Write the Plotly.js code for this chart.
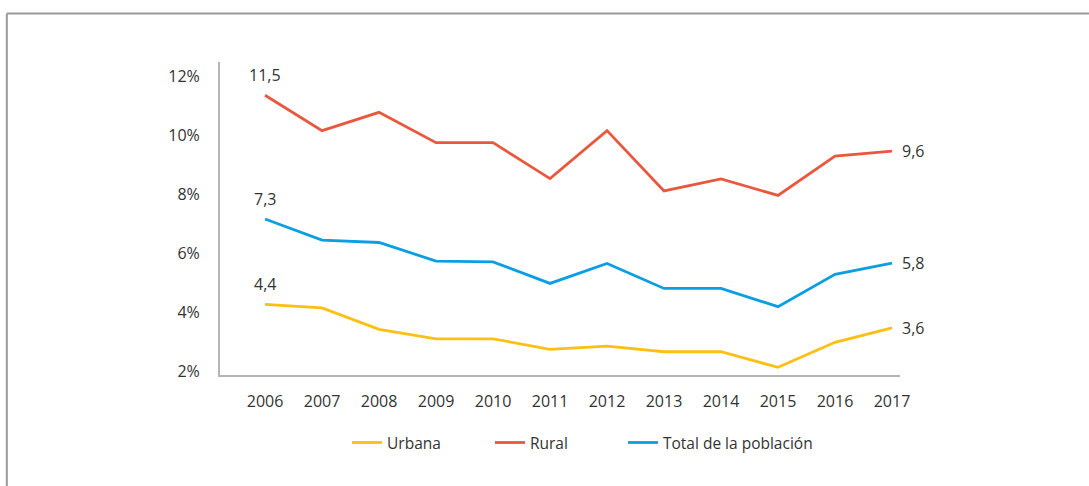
<!DOCTYPE html>
<html>
<head>
<meta charset="utf-8">
<script src="https://cdn.plot.ly/plotly-3.0.1.min.js"></script>
<style>html,body{margin:0;padding:0;background:#fff;}#chart{width:1089px;height:486px;}</style>
</head>
<body>
<div id="chart"></div>
<script>
var years = [2006, 2007, 2008, 2009, 2010, 2011, 2012, 2013, 2014, 2015, 2016, 2017];
var urbana = [4.4, 4.28, 3.55, 3.23, 3.23, 2.87, 2.98, 2.79, 2.79, 2.26, 3.11, 3.6];
var rural = [11.5, 10.3, 10.92, 9.89, 9.89, 8.67, 10.3, 8.25, 8.66, 8.1, 9.43, 9.6];
var total = [7.3, 6.58, 6.5, 5.87, 5.84, 5.11, 5.79, 4.94, 4.94, 4.32, 5.42, 5.8];
var seriesNames = ['Urbana', 'Rural', 'Total de la población'];
var yTicks = [2, 4, 6, 8, 10, 12];
var yTickText = ['2%', '4%', '6%', '8%', '10%', '12%'];

var colors = ['#FDBF12', '#E9573C', '#0A9FE2'];
var allSeries = [urbana, rural, total];
var legendIds = ['legend', 'legend2', 'legend3'];
var FONT = 'Open Sans, Noto Sans, sans-serif';

var traces = allSeries.map(function (s, i) {
  return {
    x: years, y: s, name: seriesNames[i], type: 'scatter', mode: 'lines',
    line: {color: colors[i], width: 2.8}, hoverinfo: 'skip', legend: legendIds[i]
  };
});

function fmt(v) { return (Math.round(v * 10) / 10).toFixed(1).replace('.', ','); }

var annotations = [];
allSeries.forEach(function (s) {
  annotations.push({
    x: years[0], y: s[0], xref: 'x', yref: 'y', text: fmt(s[0]),
    showarrow: false, xanchor: 'center', yanchor: 'middle', yshift: 20,
    font: {family: FONT, size: 16, color: '#333333'}
  });
  var n = s.length - 1;
  annotations.push({
    x: years[n], y: s[n], xref: 'x', yref: 'y', text: fmt(s[n]),
    showarrow: false, xanchor: 'left', yanchor: 'middle', xshift: 8,
    font: {family: FONT, size: 16, color: '#333333'}
  });
});

function legendAt(px) {
  return {
    orientation: 'h', x: px, xanchor: 'left', y: -0.217, yanchor: 'middle',
    font: {family: FONT, size: 15.5, color: '#333333'}, bgcolor: 'rgba(0,0,0,0)'
  };
}

var layout = {
  width: 1089, height: 486,
  margin: {l: 220, r: 189, t: 62, b: 111},
  paper_bgcolor: '#ffffff', plot_bgcolor: '#ffffff',
  font: {family: FONT, size: 15, color: '#333333'},
  showlegend: true,
  legend: legendAt(0.1868),
  legend2: legendAt(0.397),
  legend3: legendAt(0.5926),
  xaxis: {
    range: [2005.21, 2017.14], tickvals: years, ticktext: years.map(String),
    showgrid: false, zeroline: false, showline: true, linecolor: '#b5b5b5', linewidth: 2,
    ticks: '', ticklabelstandoff: 11, fixedrange: true,
    tickfont: {family: FONT, size: 16, color: '#333333'}
  },
  yaxis: {
    range: [2, 12.63], tickvals: yTicks, ticktext: yTickText,
    showgrid: false, zeroline: false, showline: true, linecolor: '#b5b5b5', linewidth: 2,
    ticks: '', ticklabelstandoff: 15, ticklabelshift: -4, fixedrange: true,
    tickfont: {family: FONT, size: 16, color: '#333333'}
  },
  shapes: [
    {type: 'line', xref: 'paper', yref: 'paper', x0: -0.3135, x1: -0.3135, y0: 1.155, y1: -0.5,
     line: {color: '#9a9a9a', width: 2}},
    {type: 'line', xref: 'paper', yref: 'paper', x0: -0.3135, x1: 1.35, y0: 1.155, y1: 1.155,
     line: {color: '#9a9a9a', width: 2}}
  ],
  annotations: annotations
};

Plotly.newPlot('chart', traces, layout, {staticPlot: true, displayModeBar: false});
</script>
</body>
</html>
